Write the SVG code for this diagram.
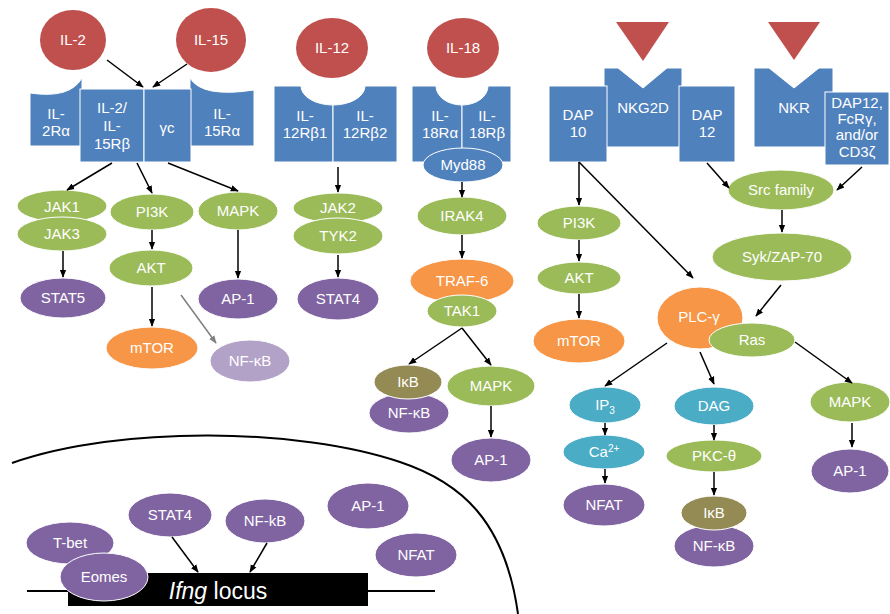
<svg xmlns="http://www.w3.org/2000/svg" width="890" height="614" viewBox="0 0 890 614">
<defs>
<style>
text{font-family:"Liberation Sans",Arial,sans-serif;font-size:15px;fill:#fff;text-anchor:middle}
.red{fill:#C0504D}
.blue{fill:#4F81BD;stroke:#fff;stroke-width:1}
.grn{fill:#9BBB59;stroke:#fff;stroke-width:1}
.pur{fill:#8064A2;stroke:#fff;stroke-width:1}
.lpur{fill:#B3A2C7;stroke:#fff;stroke-width:1}
.org{fill:#F79646;stroke:#fff;stroke-width:1}
.teal{fill:#4BACC6;stroke:#fff;stroke-width:1}
.olv{fill:#948A54;stroke:#fff;stroke-width:1}
.c{stroke:#000;stroke-width:1.5;fill:none;marker-end:url(#ah)}
.g{stroke:#808080;stroke-width:1.5;fill:none;marker-end:url(#ahg)}
</style>
<marker id="ah" viewBox="0 0 10 10" refX="9" refY="5" markerWidth="8" markerHeight="8" markerUnits="userSpaceOnUse" orient="auto"><path d="M0,1 L10,5 L0,9 Z" fill="#000"/></marker>
<marker id="ahg" viewBox="0 0 10 10" refX="9" refY="5" markerWidth="8" markerHeight="8" markerUnits="userSpaceOnUse" orient="auto"><path d="M0,1 L10,5 L0,9 Z" fill="#808080"/></marker>
</defs>
<rect width="890" height="614" fill="#fff"/>

<!-- nucleus -->
<g id="nucleus">
<path d="M12,463 C120,425 300,428 400,462 C460,482 505,520 518,614" fill="none" stroke="#000" stroke-width="2"/>
<line x1="27" y1="591" x2="435" y2="591" stroke="#000" stroke-width="2"/>
</g>
<g id="ifng"><rect x="68" y="573" width="300" height="33" fill="#000"/><text x="218" y="599" style="font-size:23px"><tspan font-style="italic">Ifng</tspan> locus</text></g>

<!-- IL-2 / IL-15 -->
<g id="il2"><ellipse class="red" cx="73" cy="40" rx="33" ry="30"/><text x="73" y="45">IL-2</text></g>
<g id="il15"><ellipse class="red" cx="211" cy="40" rx="35" ry="32"/><text x="211" y="45">IL-15</text></g>
<g id="il2ra"><path class="blue" d="M30,93 Q70,99 82,78 V146 H30 Z"/><text x="56" y="119">IL-</text><text x="56" y="136">2Rα</text></g>
<g id="il15ra"><path class="blue" d="M190,78 Q202,98 254,90 V146 H190 Z"/><text x="222" y="119">IL-</text><text x="222" y="136">15Rα</text></g>
<g id="il2rb"><rect class="blue" x="80" y="89" width="64" height="73"/><text x="112" y="113">IL-2/</text><text x="112" y="131">IL-</text><text x="112" y="149">15Rβ</text></g>
<g id="gc"><rect class="blue" x="144" y="89" width="47" height="73"/><text x="167" y="133">γc</text></g>
<g id="jak1"><ellipse class="grn" cx="62" cy="206" rx="45" ry="16"/><text x="62" y="212">JAK1</text></g>
<g id="jak3"><ellipse class="grn" cx="62" cy="234" rx="45" ry="17"/><text x="62" y="239">JAK3</text></g>
<g id="pi3k1"><ellipse class="grn" cx="152" cy="212" rx="42" ry="18"/><text x="152" y="217">PI3K</text></g>
<g id="mapk1"><ellipse class="grn" cx="238" cy="211" rx="40" ry="19"/><text x="238" y="216">MAPK</text></g>
<g id="akt1"><ellipse class="grn" cx="151" cy="268" rx="42" ry="18"/><text x="151" y="273">AKT</text></g>
<g id="stat5"><ellipse class="pur" cx="63" cy="298" rx="43" ry="20"/><text x="63" y="303">STAT5</text></g>
<g id="ap1a"><ellipse class="pur" cx="238" cy="299" rx="40" ry="20"/><text x="238" y="304">AP-1</text></g>
<g id="mtor1"><ellipse class="org" cx="152" cy="348" rx="46" ry="21"/><text x="152" y="353">mTOR</text></g>
<g id="nfkb1"><ellipse class="lpur" cx="250" cy="361" rx="40" ry="21"/><text x="250" y="366">NF-κB</text></g>

<!-- IL-12 -->
<g id="il12"><ellipse class="red" cx="332" cy="48" rx="36" ry="30"/><text x="332" y="53">IL-12</text></g>
<g id="il12rb1"><path class="blue" d="M274,86 H301 A32 19 0 0 0 333,105 V162 H274 Z"/><text x="305" y="121">IL-</text><text x="305" y="138">12Rβ1</text></g>
<g id="il12rb2"><path class="blue" d="M333,105 A32 19 0 0 0 365,86 H397 V162 H333 Z"/><text x="365" y="121">IL-</text><text x="365" y="138">12Rβ2</text></g>
<g id="jak2"><ellipse class="grn" cx="338" cy="208" rx="45" ry="15"/><text x="338" y="213">JAK2</text></g>
<g id="tyk2"><ellipse class="grn" cx="338" cy="236" rx="45" ry="18"/><text x="338" y="241">TYK2</text></g>
<g id="stat4a"><ellipse class="pur" cx="338" cy="299" rx="41" ry="21"/><text x="338" y="304">STAT4</text></g>

<!-- IL-18 -->
<g id="il18"><ellipse class="red" cx="463" cy="48" rx="36" ry="30"/><text x="463" y="53">IL-18</text></g>
<g id="il18ra"><path class="blue" d="M412,86 H436 A26 19 0 0 0 462,105 V162 H412 Z"/><text x="440" y="121">IL-</text><text x="440" y="138">18Rα</text></g>
<g id="il18rb"><path class="blue" d="M462,105 A26 19 0 0 0 488,86 H511 V162 H462 Z"/><text x="487" y="121">IL-</text><text x="487" y="138">18Rβ</text></g>
<g id="myd88"><ellipse class="blue" cx="463" cy="165" rx="40" ry="17"/><text x="463" y="170">Myd88</text></g>
<g id="irak4"><ellipse class="grn" cx="462" cy="216" rx="45" ry="19"/><text x="462" y="221">IRAK4</text></g>
<g id="traf6"><ellipse class="org" cx="462" cy="281" rx="52" ry="22"/><text x="462" y="286">TRAF-6</text></g>
<g id="tak1"><ellipse class="grn" cx="462" cy="311" rx="35" ry="16"/><text x="462" y="316">TAK1</text></g>
<g id="nfkb2"><ellipse class="pur" cx="409" cy="413" rx="40" ry="20"/><text x="409" y="418">NF-κB</text></g>
<g id="ikb1"><ellipse class="olv" cx="408" cy="382" rx="34" ry="17"/><text x="408" y="387">IκB</text></g>
<g id="mapk2"><ellipse class="grn" cx="491" cy="386" rx="44" ry="20"/><text x="491" y="391">MAPK</text></g>
<g id="ap1b"><ellipse class="pur" cx="491" cy="460" rx="40" ry="22"/><text x="491" y="465">AP-1</text></g>

<!-- NKG2D -->
<g id="lig1"><path class="red" d="M616,22 H669 L643,61 Z"/></g>
<g id="nkg2d"><path class="blue" d="M604,68 H618 L643,88 L667,68 H682 V147 H604 Z"/><text x="643" y="113">NKG2D</text></g>
<g id="dap10"><rect class="blue" x="549" y="86" width="58" height="76"/><text x="578" y="120">DAP</text><text x="578" y="137">10</text></g>
<g id="dap12"><rect class="blue" x="679" y="86" width="56" height="76"/><text x="707" y="120">DAP</text><text x="707" y="137">12</text></g>
<g id="lig2"><path class="red" d="M768,22 H820 L794,60 Z"/></g>
<g id="nkr"><path class="blue" d="M754,68 H769 L794,88 L819,68 H833 V147 H754 Z"/><text x="794" y="113">NKR</text></g>
<g id="adapt"><rect class="blue" x="825" y="92" width="64" height="73"/><text x="857" y="108">DAP12,</text><text x="857" y="124">FcRγ,</text><text x="857" y="140">and/or</text><text x="857" y="157">CD3ζ</text></g>
<g id="src"><ellipse class="grn" cx="781" cy="190" rx="53" ry="20"/><text x="781" y="195">Src family</text></g>
<g id="syk"><ellipse class="grn" cx="782" cy="257" rx="70" ry="24"/><text x="782" y="262">Syk/ZAP-70</text></g>
<g id="pi3k2"><ellipse class="grn" cx="579" cy="223" rx="42" ry="17"/><text x="579" y="228">PI3K</text></g>
<g id="akt2"><ellipse class="grn" cx="579" cy="278" rx="42" ry="16"/><text x="579" y="283">AKT</text></g>
<g id="mtor2"><ellipse class="org" cx="579" cy="341" rx="46" ry="22"/><text x="579" y="346">mTOR</text></g>
<g id="plcg"><ellipse class="org" cx="700" cy="318" rx="43" ry="31"/><text x="699" y="322">PLC-γ</text></g>
<g id="ras"><ellipse class="grn" cx="752" cy="340" rx="43" ry="17"/><text x="752" y="345">Ras</text></g>
<g id="ip3"><ellipse class="teal" cx="605" cy="405" rx="36" ry="18"/><text x="605" y="410">IP<tspan dy="4" style="font-size:10px">3</tspan></text></g>
<g id="dag"><ellipse class="teal" cx="714" cy="406" rx="40" ry="19"/><text x="714" y="411">DAG</text></g>
<g id="mapk3"><ellipse class="grn" cx="850" cy="402" rx="40" ry="20"/><text x="850" y="407">MAPK</text></g>
<g id="ca"><ellipse class="teal" cx="604" cy="452" rx="41" ry="17"/><text x="604" y="457">Ca<tspan dy="-5" style="font-size:10px">2+</tspan></text></g>
<g id="pkc"><ellipse class="grn" cx="714" cy="456" rx="48" ry="16"/><text x="714" y="461">PKC-θ</text></g>
<g id="ap1c"><ellipse class="pur" cx="850" cy="471" rx="39" ry="22"/><text x="850" y="476">AP-1</text></g>
<g id="nfat1"><ellipse class="pur" cx="604" cy="505" rx="41" ry="21"/><text x="604" y="510">NFAT</text></g>
<g id="nfkb3"><ellipse class="pur" cx="714" cy="546" rx="40" ry="21"/><text x="714" y="551">NF-κB</text></g>
<g id="ikb2"><ellipse class="olv" cx="714" cy="513" rx="33" ry="17"/><text x="714" y="518">IκB</text></g>

<!-- nucleus factors -->
<g id="tbet"><ellipse class="pur" cx="70" cy="543" rx="44" ry="21"/><text x="70" y="548">T-bet</text></g>
<g id="eomes"><ellipse class="pur" cx="104" cy="577" rx="44" ry="24"/><text x="104" y="582">Eomes</text></g>
<g id="stat4b"><ellipse class="pur" cx="170" cy="515" rx="42" ry="22"/><text x="170" y="520">STAT4</text></g>
<g id="nfkb4"><ellipse class="pur" cx="265" cy="521" rx="40" ry="22"/><text x="265" y="526">NF-kB</text></g>
<g id="ap1d"><ellipse class="pur" cx="368" cy="506" rx="41" ry="23"/><text x="368" y="511">AP-1</text></g>
<g id="nfat2"><ellipse class="pur" cx="416" cy="555" rx="41" ry="22"/><text x="416" y="560">NFAT</text></g>

<g id="connectors">
<path class="c" d="M107,60 L143,87"/>
<path class="c" d="M187,64 L153,87"/>
<path class="c" d="M112,163 L67,190"/>
<path class="c" d="M137,163 L152,193"/>
<path class="c" d="M168,163 L238,191"/>
<path class="c" d="M63,251 L63,277"/>
<path class="c" d="M152,230 L152,249"/>
<path class="c" d="M152,287 L152,326"/>
<path class="c" d="M238,230 L238,278"/>
<path class="g" d="M181,295 L216,343"/>
<path class="c" d="M338,167 L338,192"/>
<path class="c" d="M338,255 L338,277"/>
<path class="c" d="M462,182 L462,197"/>
<path class="c" d="M462,235 L462,258"/>
<path class="c" d="M462,328 L409,364"/>
<path class="c" d="M462,328 L491,365"/>
<path class="c" d="M491,406 L491,437"/>
<path class="c" d="M579,162 L579,205"/>
<path class="c" d="M579,162 L693,278"/>
<path class="c" d="M579,240 L579,261"/>
<path class="c" d="M579,294 L579,318"/>
<path class="c" d="M707,163 L729,188"/>
<path class="c" d="M862,167 L837,190"/>
<path class="c" d="M782,210 L782,232"/>
<path class="c" d="M781,285 L756,316"/>
<path class="c" d="M667,343 L605,386"/>
<path class="c" d="M700,352 L714,384"/>
<path class="c" d="M795,342 L852,383"/>
<path class="c" d="M605,423 L605,435"/>
<path class="c" d="M605,469 L605,483"/>
<path class="c" d="M714,425 L714,440"/>
<path class="c" d="M714,472 L714,495"/>
<path class="c" d="M852,423 L852,447"/>
<path class="c" d="M172,537 L198,572"/>
<path class="c" d="M267,543 L250,572"/>
</g>
</svg>
